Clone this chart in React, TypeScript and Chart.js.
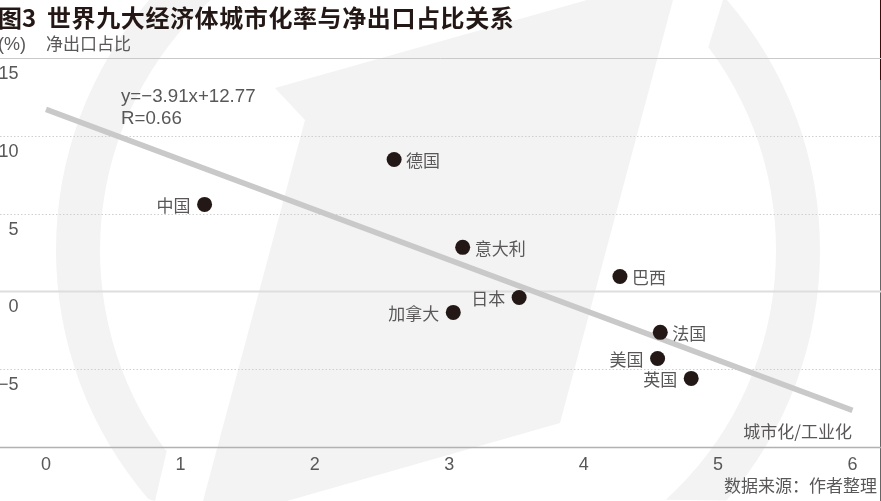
import React, { useRef, useEffect } from 'react';
import Chart from 'chart.js/auto';

const countries = ['中国', '德国', '意大利', '巴西', '日本', '加拿大', '法国', '美国', '英国'];
const urbanRatio = [1.18, 2.59, 3.1, 4.27, 3.52, 3.03, 4.57, 4.55, 4.8];
const netExport = [5.59, 8.48, 2.83, 0.96, -0.39, -1.35, -2.63, -4.31, -5.59];
const trendX = [0, 6];
const trendY = [11.7, -7.65];
const xTicks = [0, 1, 2, 3, 4, 5, 6];
const yTicks = [15, 10, 5, 0, -5];
const solidLines = [15, 0, -10];

const titleNo = '图3';
const titleText = '世界九大经济体城市化率与净出口占比关系';
const unitText = '(%)';
const yTitle = '净出口占比';
const xTitle = '城市化/工业化';
const formula = 'y=−3.91x+12.77';
const rValue = 'R=0.66';
const source = '数据来源\uFF1A作者整理';

const CJK = '"Noto Sans CJK SC", sans-serif';
const LATIN = '"Liberation Sans", sans-serif';
const labelsOnLeft = ['中国', '日本', '加拿大', '美国', '英国'];

const App: React.FC = () => {
    const canvasRef = useRef<HTMLCanvasElement | null>(null);

    useEffect(() => {
        if (!canvasRef.current) return;

        const backdrop = {
            id: 'backdrop',
            beforeDraw: (chart: Chart) => {
                const { ctx } = chart;
                const cx = 438, cy = 250, outer = 382, inner = 338;
                const ang = (x: number, y: number) => Math.atan2(y - cy, x - cx);
                ctx.save();
                ctx.fillStyle = '#ffffff';
                ctx.fillRect(0, 0, 881, 501);
                ctx.fillStyle = '#f3f3f3';

                // left part of the ring
                ctx.beginPath();
                ctx.moveTo(167, 450);
                ctx.lineTo(155, 501);
                ctx.arc(cx, cy, outer, ang(146, 501), ang(149, 0));
                ctx.arc(cx, cy, inner, ang(211, 0), ang(167, 450), true);
                ctx.closePath();
                ctx.fill();

                // right part of the ring
                ctx.beginPath();
                ctx.moveTo(708, 48);
                ctx.lineTo(723, 0);
                ctx.arc(cx, cy, outer, ang(727, 0), ang(727, 501));
                ctx.arc(cx, cy, inner, ang(667, 501), ang(708, 48), true);
                ctx.closePath();
                ctx.fill();

                // slanted logo shape in the middle
                ctx.beginPath();
                ctx.moveTo(275, 88);
                ctx.lineTo(587, 0);
                ctx.lineTo(673, 0);
                ctx.lineTo(560, 423);
                ctx.lineTo(287, 501);
                ctx.lineTo(203, 501);
                ctx.lineTo(305, 120);
                ctx.closePath();
                ctx.fill();

                // dark edge of the scan
                ctx.fillStyle = '#3a0d0d';
                ctx.fillRect(880, 0, 1, 80);
                ctx.fillStyle = '#666666';
                ctx.fillRect(880, 80, 1, 421);
                ctx.restore();
            },
            beforeDatasetsDraw: (chart: Chart) => {
                const { ctx, chartArea: { left, right }, scales: { y } } = chart;
                ctx.save();
                y.ticks.forEach((t: any) => {
                    const py = Math.round(y.getPixelForValue(t.value)) + 0.5;
                    const solid = solidLines.includes(t.value);
                    ctx.beginPath();
                    ctx.setLineDash(solid ? [] : [1.5, 2]);
                    ctx.lineWidth = t.value === 0 ? 2 : t.value === -10 ? 1.5 : 1;
                    ctx.strokeStyle = t.value === 0 ? '#dedede' : t.value === -10 ? '#b5b1ae' : solid ? '#c9c9c9' : '#cfcfcf';
                    ctx.moveTo(left, py);
                    ctx.lineTo(right, py);
                    ctx.stroke();
                });
                ctx.restore();
            },
            afterDatasetsDraw: (chart: Chart) => {
                const { ctx, scales: { x, y } } = chart;
                ctx.save();

                // country labels next to the points
                ctx.font = `17px ${CJK}`;
                ctx.fillStyle = '#595757';
                ctx.textBaseline = 'middle';
                countries.forEach((name, i) => {
                    const px = x.getPixelForValue(urbanRatio[i]);
                    const py = y.getPixelForValue(netExport[i]);
                    const onLeft = labelsOnLeft.includes(name);
                    ctx.textAlign = onLeft ? 'right' : 'left';
                    ctx.fillText(name, px + (onLeft ? -14 : 12), py + 1);
                });

                // title
                ctx.textBaseline = 'alphabetic';
                ctx.textAlign = 'left';
                ctx.fillStyle = '#231815';
                ctx.font = `bold 24px ${CJK}`;
                ctx.fillText(titleNo, -2, 27);
                (ctx as any).letterSpacing = '0.6px';
                ctx.fillText(titleText, 47, 27);
                (ctx as any).letterSpacing = '0px';

                // axis captions and notes
                ctx.fillStyle = '#595757';
                ctx.font = `18px ${LATIN}`;
                ctx.fillText(unitText, -2, 50);
                ctx.font = `18.7px ${LATIN}`;
                ctx.fillText(formula, 121, 102);
                ctx.fillText(rValue, 121, 124);
                ctx.font = `17px ${CJK}`;
                ctx.fillText(yTitle, 46, 50);
                ctx.fillText(source, 724, 492);
                ctx.textAlign = 'right';
                ctx.fillText(xTitle, 852, 438);
                ctx.restore();
            },
        };

        const chart = new Chart(canvasRef.current, {
            type: 'scatter',
            data: {
                datasets: [
                    {
                        label: '净出口占比',
                        data: urbanRatio.map((v, i) => ({ x: v, y: netExport[i] })),
                        backgroundColor: '#231815',
                        borderColor: '#231815',
                        pointRadius: 7.5,
                        pointHoverRadius: 7.5,
                        borderWidth: 0,
                    },
                    {
                        label: '趋势线',
                        data: trendX.map((v, i) => ({ x: v, y: trendY[i] })),
                        showLine: true,
                        borderColor: '#c9c9c9',
                        borderWidth: 5.5,
                        pointRadius: 0,
                    },
                ],
            },
            plugins: [backdrop],
            options: {
                responsive: false,
                animation: false,
                layout: { autoPadding: false, padding: { top: 58, left: 0, right: 0, bottom: 0 } },
                plugins: {
                    legend: { display: false },
                    tooltip: { enabled: false },
                    title: { display: false },
                },
                scales: {
                    x: {
                        type: 'linear',
                        min: -0.342,
                        max: 6.212,
                        afterFit: (s: any) => {
                            s.height = 54;
                            s.paddingLeft = 0;
                            s.paddingRight = 0;
                        },
                        border: { display: false },
                        grid: { display: false, drawTicks: false },
                        ticks: {
                            stepSize: 1,
                            includeBounds: false,
                            autoSkip: false,
                            maxRotation: 0,
                            padding: 7,
                            color: '#595757',
                            font: { family: LATIN, size: 18 },
                            callback: (v: any) => (xTicks.includes(v) ? String(v) : ''),
                        },
                    },
                    y: {
                        type: 'linear',
                        min: -10,
                        max: 15,
                        afterFit: (s: any) => {
                            s.width = 0;
                            s.paddingTop = 0;
                            s.paddingBottom = 0;
                        },
                        border: { display: false },
                        grid: { display: false, drawTicks: false },
                        ticks: {
                            stepSize: 5,
                            mirror: true,
                            crossAlign: 'far',
                            padding: -2,
                            labelOffset: 16,
                            color: '#595757',
                            font: { family: LATIN, size: 18 },
                            callback: (v: any) => (yTicks.includes(v) ? String(v).replace('-', '−') : ''),
                        },
                    },
                },
            },
        });

        return () => {
            chart.destroy();
        };
    }, []);

    return (
        <div style={{ position: 'absolute', left: 0, top: 0, width: 881, height: 501, overflow: 'hidden' }}>
            <canvas ref={canvasRef} width={881} height={501} style={{ display: 'block' }}></canvas>
        </div>
    );
};

export default App;
